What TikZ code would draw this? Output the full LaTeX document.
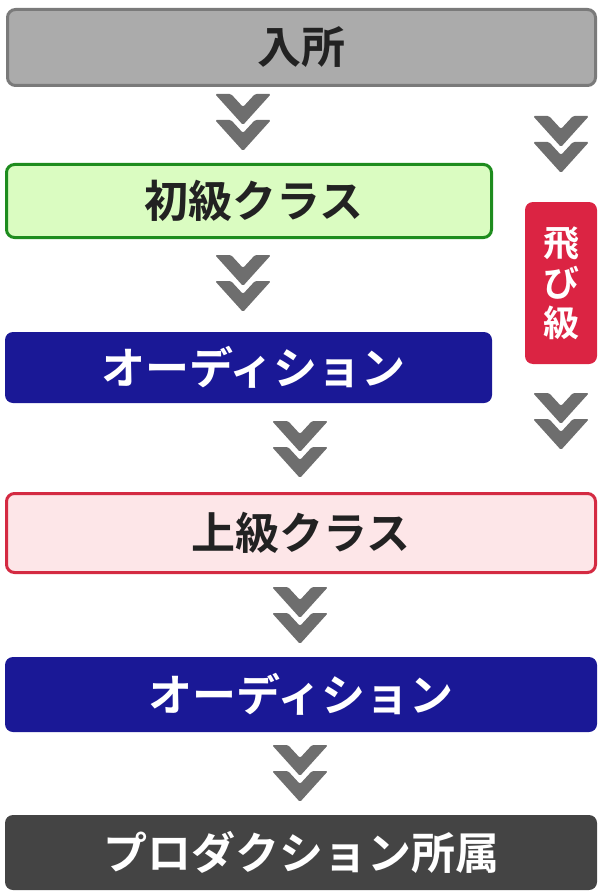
\documentclass[tikz,border=0pt]{standalone}
\usepackage{fontspec}
\newfontfamily\jp{Noto Sans CJK JP}[BoldFont={Noto Sans CJK JP Bold}]
\usetikzlibrary{positioning}

\definecolor{entryfill}{HTML}{ABABAB}
\definecolor{entryline}{HTML}{7A7A7A}
\definecolor{basicfill}{HTML}{DAFCC1}
\definecolor{basicline}{HTML}{1E8C1E}
\definecolor{advfill}{HTML}{FDE6E8}
\definecolor{advline}{HTML}{D42A42}
\definecolor{auditionblue}{HTML}{1A1896}
\definecolor{skipred}{HTML}{DB2443}
\definecolor{prodgray}{HTML}{444444}
\definecolor{chevgray}{HTML}{6E6E6E}
\definecolor{textdark}{HTML}{222222}

\begin{document}
\begin{tikzpicture}[
    x=1pt, y=-1pt,
    stage/.style={rectangle, rounded corners=8pt, inner sep=0pt, line width=3pt,
        font={\jp\bfseries\fontsize{44pt}{44pt}\selectfont}},
    lightstage/.style={stage, draw, text=textdark},
    darkstage/.style={stage, draw=none, text=white},
    narrowstage/.style={execute at begin node={\hspace*{10pt}}},
    dblchev/.pic={
        \fill[chevgray, rounded corners=1.5pt] (-28,0) -- (-12,0) -- (0,13) -- (12,0) -- (28,0) -- (0,31) -- cycle;
        \fill[chevgray, rounded corners=1.5pt] (-28,26) -- (-12,26) -- (0,39) -- (12,26) -- (28,26) -- (0,57) -- cycle;
    }
]
\useasboundingbox (0,0) rectangle (600,896);

\node[lightstage, fill=entryfill, draw=entryline, minimum width=588, minimum height=76] (entry) at (301.5, 47.5) {入所};
\node[lightstage, narrowstage, fill=basicfill, draw=basicline, minimum width=485, minimum height=73] (basic) at (249, 201) {初級クラス};
\node[darkstage, narrowstage, fill=auditionblue, minimum width=487, minimum height=71] (audition1) at (248.5, 367.5) {オーディション};
\node[lightstage, fill=advfill, draw=advline, minimum width=589, minimum height=79] (advanced) at (301, 533) {上級クラス};
\node[darkstage, fill=auditionblue, minimum width=592, minimum height=75] (audition2) at (301, 694.5) {オーディション};
\node[darkstage, fill=prodgray, minimum width=592, minimum height=75] (production) at (301, 852.5) {プロダクション所属};

\node[darkstage, fill=skipred, minimum width=72, minimum height=162, align=center,
    font={\jp\bfseries\fontsize{36pt}{40pt}\selectfont}] (skip) at (561, 283) {飛\\び\\級};

% chevrons between the stages
\pic at (243, 94) {dblchev};
\pic at (243, 255) {dblchev};
\pic at (300, 421) {dblchev};
\pic at (300, 587) {dblchev};
\pic at (300, 745) {dblchev};

% chevrons beside the skip box
\pic at (561, 116) {dblchev};
\pic at (561, 393) {dblchev};

\end{tikzpicture}
\end{document}
